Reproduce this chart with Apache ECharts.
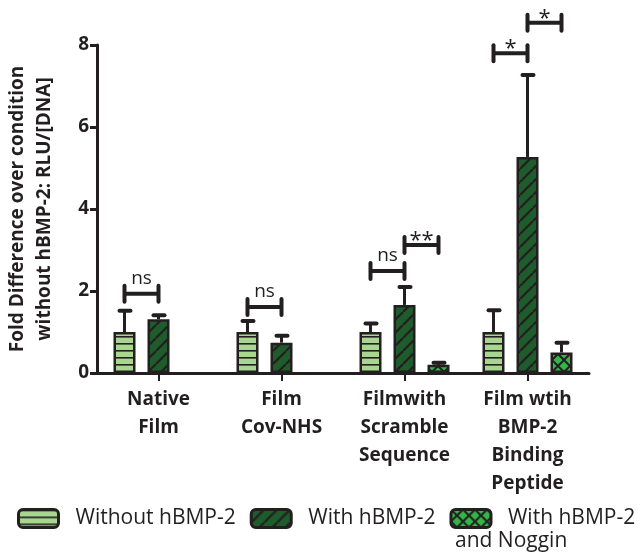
<!DOCTYPE html>
<html><head><meta charset="utf-8">
<script src="https://cdn.jsdelivr.net/npm/echarts@6/dist/echarts.min.js"></script>
<style>html,body{margin:0;padding:0;background:#fff}#c{width:640px;height:554px}</style>
</head><body><div id="c"></div>
<script>
// ---- data ----
const categories = ['Native\nFilm', 'Film\nCov-NHS', 'Filmwith\nScramble\nSequence', 'Film wtih\nBMP-2\nBinding\nPeptide'];
const seriesNames = ['Without hBMP-2', 'With hBMP-2', 'With hBMP-2'];
const withoutVals = [1.0, 1.0, 1.0, 1.0];
const withVals = [1.31, 0.74, 1.66, 5.27];
const nogginVals = ['-', '-', 0.2, 0.5];
const withoutErrTop = [1.52, 1.27, 1.21, 1.53];
const withErrTop = [1.41, 0.91, 2.10, 7.27];
const nogginErrTop = ['-', '-', 0.25, 0.74];
// brackets: [category, fromSeries, toSeries, y, label]
const brackets = [
  [0, 0, 1, 1.93, 'ns'],
  [1, 0, 1, 1.61, 'ns'],
  [2, 0, 1, 2.49, 'ns'],
  [2, 1, 2, 3.12, '**'],
  [3, 0, 1, 7.80, '*'],
  [3, 1, 2, 8.54, '*']
];
const yTicks = [0, 2, 4, 6, 8];

// ---- styling ----
const INK = '#231f20';
const BAR_W = 22, GAP = 12, STEP = BAR_W + GAP;
function pat(w, h, draw) {
  const c = document.createElement('canvas'); c.width = w; c.height = h;
  const g = c.getContext('2d'); draw(g, w, h); return { image: c, repeat: 'repeat' };
}
const lightFill = pat(4, 7, (g, w, h) => { g.fillStyle = '#a8d690'; g.fillRect(0, 0, w, h); g.fillStyle = INK; g.fillRect(0, 0, w, 1.6); });
const darkFill = pat(13, 13, (g, w, h) => {
  g.fillStyle = '#1e5c2c'; g.fillRect(0, 0, w, h);
  g.strokeStyle = INK; g.lineWidth = 2.2;
  for (const o of [-w, 0, w]) { g.beginPath(); g.moveTo(o, h); g.lineTo(o + w, 0); g.stroke(); }
});
const nogFill = pat(12, 12, (g, w, h) => {
  g.fillStyle = '#33b54a'; g.fillRect(0, 0, w, h);
  g.strokeStyle = INK; g.lineWidth = 2;
  g.beginPath(); g.moveTo(0, 0); g.lineTo(w, h); g.moveTo(w, 0); g.lineTo(0, h); g.stroke();
});
const fills = [lightFill, darkFill, nogFill];

const errItems = [];
[withoutVals, withVals, nogginVals].forEach((arr, s) => {
  const tops = [withoutErrTop, withErrTop, nogginErrTop][s];
  arr.forEach((v, i) => { if (v !== '-') errItems.push([i, s, v, tops[i]]); });
});

const chart = echarts.init(document.getElementById('c'), null, { renderer: 'canvas' });
const FONT = '"Open Sans", "Noto Sans", sans-serif';

function barSeries(name, data, idx) {
  return {
    name: name, type: 'bar', data: data, barWidth: BAR_W, barGap: (GAP / BAR_W * 100) + '%',
    itemStyle: { color: fills[idx], borderColor: INK, borderWidth: 2.5 },
    z: 3, animation: false
  };
}

chart.setOption({
  animation: false,
  textStyle: { fontFamily: FONT },
  grid: { left: 97, right: 51, top: 45, bottom: 181, containLabel: false, outerBoundsMode: 'none' },
  xAxis: {
    type: 'category', data: categories,
    axisLine: { lineStyle: { color: INK, width: 3 } },
    axisTick: { show: true, alignWithLabel: true, length: 8, lineStyle: { color: INK, width: 2 } },
    axisLabel: { color: INK, fontWeight: 'bold', fontSize: 19, lineHeight: 28, margin: 13, interval: 0, fontFamily: FONT }
  },
  yAxis: {
    type: 'value', min: yTicks[0], max: yTicks[yTicks.length - 1], interval: 2,
    name: 'Fold Difference over condition\nwithout hBMP-2: RLU/[DNA]',
    nameLocation: 'middle', nameGap: 39, nameRotate: 90,
    nameTextStyle: { color: INK, fontWeight: 'bold', fontSize: 19, lineHeight: 27, fontFamily: FONT },
    axisLine: { show: true, lineStyle: { color: INK, width: 3 } },
    axisTick: { show: true, length: 7, lineStyle: { color: INK, width: 3 } },
    axisLabel: { color: INK, fontWeight: 'bold', fontSize: 19, margin: 8, fontFamily: FONT },
    splitLine: { show: false }
  },
  series: [
    barSeries('s0', withoutVals, 0),
    barSeries('s1', withVals, 1),
    barSeries('s2', nogginVals, 2),
    {
      type: 'custom', name: 'err', z: 1, clip: false, animation: false, silent: true,
      data: errItems.map(e => [e[0], e[3]]),
      renderItem: function (params, api) {
        const e = errItems[params.dataIndex];
        const cx = api.coord([e[0], 0])[0] + (e[1] - 1) * STEP;
        const y0 = api.coord([e[0], e[2]])[1];
        const y1 = api.coord([e[0], e[3]])[1];
        return { type: 'group', children: [
          { type: 'line', shape: { x1: cx, y1: y0, x2: cx, y2: y1 }, style: { stroke: INK, lineWidth: 3 } },
          { type: 'line', shape: { x1: cx - 5, y1: y1, x2: cx + 6, y2: y1 }, style: { stroke: INK, lineWidth: 4, lineCap: 'round' } }
        ] };
      }
    },
    {
      type: 'custom', name: 'sig', z: 4, clip: false, animation: false, silent: true,
      data: brackets.map(b => [b[0], b[3]]),
      renderItem: function (params, api) {
        const b = brackets[params.dataIndex];
        const c = api.coord([b[0], b[3]]);
        const xa = c[0] + (b[1] - 1) * STEP, xb = c[0] + (b[2] - 1) * STEP, y = c[1];
        const isStar = b[4].indexOf('*') >= 0;
        return { type: 'group', children: [
          { type: 'line', shape: { x1: xa, y1: y, x2: xb, y2: y }, style: { stroke: INK, lineWidth: 4 } },
          { type: 'line', shape: { x1: xa, y1: y - 8, x2: xa, y2: y + 8 }, style: { stroke: INK, lineWidth: 4, lineCap: 'round' } },
          { type: 'line', shape: { x1: xb, y1: y - 8, x2: xb, y2: y + 8 }, style: { stroke: INK, lineWidth: 4, lineCap: 'round' } },
          { type: 'text', x: (xa + xb) / 2, y: isStar ? y - 4 : y - 15,
            style: { text: b[4], fill: INK, font: (isStar ? '22px ' : '19px ') + FONT, align: 'center', verticalAlign: 'middle' } }
        ] };
      }
    }
  ],
  legend: {
    show: true, left: 17, top: 508, width: 640, padding: 0, itemWidth: 40, itemHeight: 18, itemGap: 14,
    icon: 'roundRect',
    data: ['s0', 's1', 's2'],
    formatter: function (n) { return seriesNames[['s0', 's1', 's2'].indexOf(n)]; },
    itemStyle: { borderColor: INK, borderWidth: 3 },
    textStyle: { color: INK, fontSize: 21, fontFamily: FONT, padding: [0, 0, 0, 12], lineHeight: 20 },
    selectedMode: false
  },
  graphic: [{ type: 'text', left: 455, top: 531, style: { text: 'and Noggin', fill: INK, font: '21px ' + FONT } }]
});
</script></body></html>
